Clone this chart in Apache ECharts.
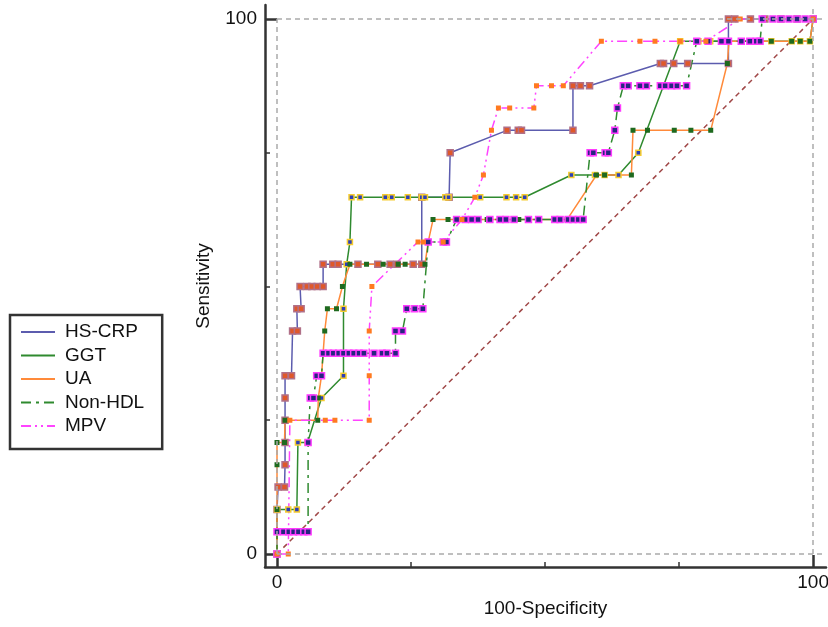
<!DOCTYPE html>
<html>
<head>
<meta charset="utf-8">
<script src="https://cdn.jsdelivr.net/npm/echarts@6/dist/echarts.min.js"></script>
<style>
html, body { margin: 0; padding: 0; background: #fff; }
#chart { width: 828px; height: 627px; }
</style>
</head>
<body>
<div id="chart"></div>
<script>
// ROC curves: [100-specificity, sensitivity]
var hsCrp = [[0,0],[0,8.33],[0.2,12.5],[1.4,12.5],[1.5,16.67],[1.5,20.83],[1.5,25],[1.5,29.17],[1.5,33.33],[2.7,33.33],
	[2.9,41.67],[3.8,41.67],[3.7,45.83],[4.5,45.83],[4.3,50],[5.6,50],[6.5,50],[7.5,50],[8.6,50],[8.6,54.17],
	[10.4,54.17],[11.4,54.17],[15.1,54.17],[18.8,54.17],[21.1,54.17],[22.4,54.17],[25.4,54.17],[27,54.17],[27,66.67],[32.1,66.67],
	[32.3,75],[42.9,79.17],[45,79.17],[45.6,79.17],[55.2,79.17],[55.2,87.5],[56.6,87.5],[58.3,87.5],[71.5,91.67],[72.1,91.67],
	[74,91.67],[76.6,91.67],[84.2,91.67],[84.2,100],[85.4,100],[88.3,100],[91,100],[94,100],[97,100],[100,100]];

var ggt = [[0,0],[0,8.33],[2.1,8.33],[3.7,8.33],[3.9,20.83],[5.7,20.83],[8.3,29.17],[12.4,33.33],[12.4,45.83],[13,54.17],
	[13.6,58.33],[13.9,66.67],[15.5,66.67],[20.2,66.67],[21.4,66.67],[24.4,66.67],[27,66.67],[27.6,66.67],[31.4,66.67],[32,66.67],
	[37.9,66.67],[42.8,66.67],[44.6,66.67],[46.2,66.67],[54.9,70.83],[59.3,70.83],[61.1,70.83],[63.7,70.83],[67.4,75],[75.2,95.83],
	[78.6,95.83],[80.8,95.83],[92.2,95.83],[96,95.83],[97.6,95.83],[99.4,95.83],[100,100]];

var ua = [[0,0],[0,8.33],[0,16.67],[0,20.83],[1.4,20.83],[1.5,25],[7.6,25],[7.7,29.17],[8.3,33.33],[8.6,37.5],
	[8.9,41.67],[9.4,45.83],[11.1,45.83],[12.2,50],[13.6,54.17],[16.7,54.17],[19.8,54.17],[22.6,54.17],[23.9,54.17],[27.6,54.17],
	[28.2,58.33],[29.1,62.5],[31.9,62.5],[35.1,62.5],[39.2,62.5],[45.1,62.5],[54.1,62.5],[59.6,70.83],[61.1,70.83],[66.1,70.83],
	[66.4,79.17],[69.1,79.17],[74.1,79.17],[77.2,79.17],[80.9,79.17],[84,91.67],[84.3,95.83],[92.2,95.83],[96,95.83],[97.6,95.83],
	[99.4,95.83],[100,100]];

var nonHdl = [[0,0],[0,4.17],[1.2,4.17],[2.2,4.17],[3.1,4.17],[4,4.17],[5,4.17],[5.8,4.17],[5.8,20.83],[6.2,29.17],
	[6.8,29.17],[7.4,33.33],[8.3,33.33],[8.6,37.5],[9.6,37.5],[10.5,37.5],[11.5,37.5],[12.4,37.5],[13.4,37.5],[14.3,37.5],
	[15.3,37.5],[16.2,37.5],[18.1,37.5],[19.6,37.5],[20.5,37.5],[22.1,37.5],[22.1,41.67],[23.4,41.67],[24.2,45.83],[25.7,45.83],
	[27.2,45.83],[28.2,58.33],[31,58.33],[31.6,58.33],[33.5,62.5],[35.1,62.5],[36.3,62.5],[37.5,62.5],[39.7,62.5],[41.6,62.5],
	[42.7,62.5],[44.2,62.5],[46.9,62.5],[48.8,62.5],[51.8,62.5],[52.8,62.5],[54.3,62.5],[55.2,62.5],[56.2,62.5],[57.1,62.5],
	[58.4,75],[59,75],[61.2,75],[61.8,75],[63,79.17],[63.5,83.33],[64.6,87.5],[65.5,87.5],[67.7,87.5],[68.9,87.5],
	[71.5,87.5],[72.4,87.5],[73.6,87.5],[74.6,87.5],[76.4,87.5],[78.3,95.83],[80.4,95.83],[82.9,95.83],[84.2,95.83],[86.6,95.83],
	[88.2,95.83],[89.4,95.83],[90.1,95.83],[90.5,100],[92.5,100],[94,100],[95.5,100],[97,100],[98.5,100],[100,100]];

var mpv = [[0,0],[2.1,0],[2.4,25],[9,25],[10.8,25],[17.2,25],[17.2,33.33],[17.2,41.67],[17.7,50],[26.3,58.33],
	[27.3,58.33],[31,58.33],[34.5,62.5],[36.9,66.67],[38.5,70.83],[40,79.17],[41.3,83.33],[43.4,83.33],[47.9,83.33],[48.4,87.5],
	[51.2,87.5],[53.4,87.5],[60.5,95.83],[67.7,95.83],[70.5,95.83],[75.2,95.83],[80,95.83],[86.4,100],[100,100]];

var chanceLine = [[0,0],[100,100]];

var seriesNames = ['HS-CRP', 'GGT', 'UA', 'Non-HDL', 'MPV'];
var labelTicks = [0, 100];
var minorTicks = [25, 50, 75];

var FONT = 'Liberation Sans, Arial, sans-serif';
var chart = echarts.init(document.getElementById('chart'));

function axisPair(isX) {
	var side = isX ? 'bottom' : 'left';
	var base = {
		type: 'value',
		position: side,
		min: isX ? -2.24 : -2.43,
		max: isX ? 102.4 : 102.6,
		splitLine: { show: false },
		axisLine: { onZero: false, lineStyle: { color: '#333', width: 2.5 } },
		axisTick: { inside: true, customValues: labelTicks, length: 12, lineStyle: { color: '#333', width: 2.5 } },
		axisLabel: { customValues: labelTicks, fontSize: 19, color: '#111', fontFamily: FONT, margin: isX ? 6 : 8 },
		name: isX ? '100-Specificity' : 'Sensitivity',
		nameLocation: 'middle',
		nameGap: isX ? 32 : 52,
		nameTextStyle: { fontSize: 19, color: '#111', fontFamily: FONT }
	};
	// second axis on the same side, only for the short ticks at 25/50/75
	var minor = {
		type: 'value',
		position: side,
		offset: 0,
		min: base.min,
		max: base.max,
		splitLine: { show: false },
		axisLine: { show: false, onZero: false },
		axisTick: { inside: true, customValues: minorTicks, length: 5, lineStyle: { color: '#333', width: 1.5 } },
		axisLabel: { show: false }
	};
	return [base, minor];
}

function rocSeries(name, data, lineColor, lineType, symbolFill, symbolBorder, size) {
	return {
		name: name,
		type: 'line',
		data: data,
		xAxisIndex: 0,
		yAxisIndex: 0,
		symbol: 'rect',
		symbolSize: size,
		showAllSymbol: true,
		lineStyle: { color: lineColor, width: 1.5, type: lineType },
		itemStyle: { color: symbolFill, borderColor: symbolBorder, borderWidth: 1.5 }
	};
}

var frameStyle = { color: '#aaa', type: [5, 4], width: 1.5 };

var option = {
	animation: false,
	backgroundColor: '#fff',
	grid: { left: 265, right: 2, top: 5, bottom: 60, containLabel: false, outerBoundsMode: 'none' },
	xAxis: axisPair(true),
	yAxis: axisPair(false),
	legend: {
		data: seriesNames,
		orient: 'vertical',
		left: 10,
		top: 315,
		borderColor: '#333',
		borderWidth: 2.5,
		padding: [7, 18, 13, 10],
		itemWidth: 34,
		itemHeight: 14,
		itemGap: 3.5,
		itemStyle: { opacity: 0 },
		textStyle: { fontSize: 19, color: '#111', fontFamily: FONT, lineHeight: 20, padding: [0, 0, 0, 5] }
	},
	series: [
		{
			name: 'chance',
			type: 'line',
			data: chanceLine,
			symbol: 'none',
			silent: true,
			lineStyle: { color: '#a04848', width: 1.5, type: [5, 4] },
			markLine: {
				silent: true,
				symbol: ['none', 'none'],
				label: { show: false },
				lineStyle: frameStyle,
				data: [
					[{ coord: [0, 100] }, { coord: [102.2, 100] }],
					[{ coord: [100, 0] }, { coord: [100, 102.6] }],
					[{ coord: [0, 0] }, { coord: [102, 0] }],
					[{ coord: [0, 0] }, { coord: [0, 100] }]
				]
			}
		},
		rocSeries('HS-CRP', hsCrp, '#5c5cae', 'solid', '#e0582a', '#b07088', 6),
		rocSeries('GGT', ggt, '#2f8a2f', 'solid', '#2d3fb8', '#f5cc30', 5),
		rocSeries('UA', ua, '#ff8a3a', 'solid', '#1f6a1f', '#1f6a1f', 3.5),
		rocSeries('Non-HDL', nonHdl, '#2f8a2f', [10, 5, 3, 5], '#262680', '#ff3cff', 6),
		rocSeries('MPV', mpv, '#ff44ff', [10, 4, 2, 4, 2, 4], '#ff7a20', '#ff7a20', 3.5)
	]
};

chart.setOption(option);
</script>
</body>
</html>
